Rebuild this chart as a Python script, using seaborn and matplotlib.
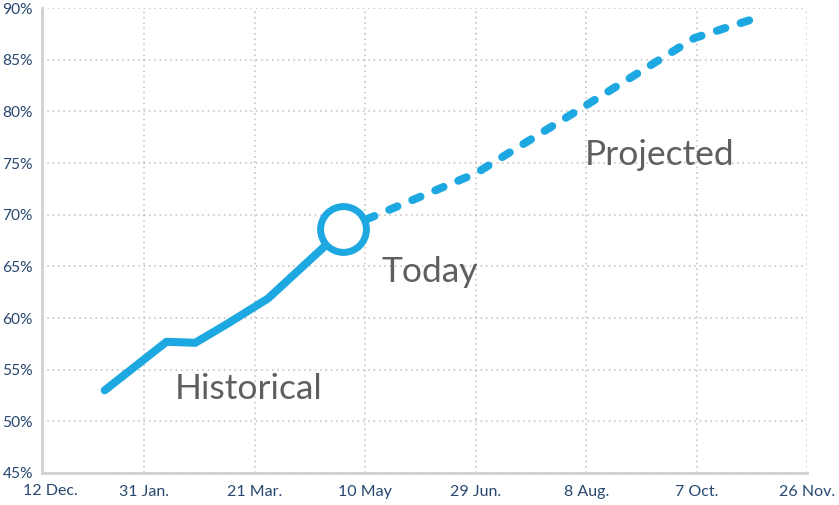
import matplotlib
matplotlib.use("Agg")
import matplotlib.pyplot as plt
import seaborn as sns
import pandas as pd

# days counted from 12 Dec., values in percent
hist_days = [32, 60, 73, 88, 106, 140]
hist_vals = [53.0, 57.7, 57.6, 59.5, 61.9, 68.6]

proj_days = [140, 200, 250, 299, 325]
proj_vals = [68.6, 74.0, 80.6, 87.1, 88.9]

today_day = 140
today_val = 68.6

tick_days = [50, 100, 150, 200, 250, 300, 350]
tick_labels = ["31 Jan.", "21 Mar.", "10 May", "29 Jun.", "8 Aug.", "7 Oct.", "26 Nov."]
first_label = "12 Dec."
y_ticks = [45, 50, 55, 60, 65, 70, 75, 80, 85, 90]

blue = "#1ea8e2"
tick_col = "#27476e"
text_col = "#5f5f5f"

sns.set_style("white")
plt.rcParams["font.family"] = ["Lato", "DejaVu Sans"]

hist = pd.DataFrame({"day": hist_days, "val": hist_vals})
proj = pd.DataFrame({"day": proj_days, "val": proj_vals})

fig = plt.figure(figsize=(8.39, 5.05), dpi=100)
ax = fig.add_axes([0.05, 0.0634, 0.912, 0.9206])

sns.lineplot(data=hist, x="day", y="val", ax=ax, color=blue, linewidth=5.8,
             solid_capstyle="round", solid_joinstyle="round", zorder=3)
sns.lineplot(data=proj, x="day", y="val", ax=ax, color=blue, linewidth=5.8,
             dashes=False, zorder=3)
ax.lines[-1].set_dashes((1.1, 2.0))
ax.lines[-1].set_dash_capstyle("round")

ax.plot([today_day], [today_val], marker="o", markersize=33, markeredgewidth=5,
        markerfacecolor="white", markeredgecolor=blue, zorder=4, linestyle="none")

ax.text(97, 53.1, "Historical", fontsize=25.5, color=text_col, ha="center", va="center")
ax.text(179, 64.5, "Today", fontsize=25.5, color=text_col, ha="center", va="center")
ax.text(283, 75.8, "Projected", fontsize=25.5, color=text_col, ha="center", va="center")

ax.set_xlim(3.6, 350)
ax.set_ylim(45, 90)
ax.set_xticks(tick_days)
ax.set_xticklabels(tick_labels)
ax.set_yticks(y_ticks)
ax.set_yticklabels([f"{v}%" for v in y_ticks])
ax.text(0.011, -0.024, first_label, transform=ax.transAxes, ha="center", va="top",
        fontsize=11.5, color=tick_col)

ax.tick_params(axis="both", length=0, labelsize=11.5, labelcolor=tick_col)
ax.tick_params(axis="x", pad=9)
ax.tick_params(axis="y", labelsize=11.2, pad=6.5)
ax.grid(True, linestyle=(0, (1, 2.5)), color="#bdbdbd", linewidth=1.1)
ax.set_xlabel("")
ax.set_ylabel("")

for side in ["top", "right"]:
    ax.spines[side].set_visible(False)
for side in ["left", "bottom"]:
    ax.spines[side].set_color("#d0d0d0")
    ax.spines[side].set_linewidth(2)

fig.savefig("out.png", dpi=100)
